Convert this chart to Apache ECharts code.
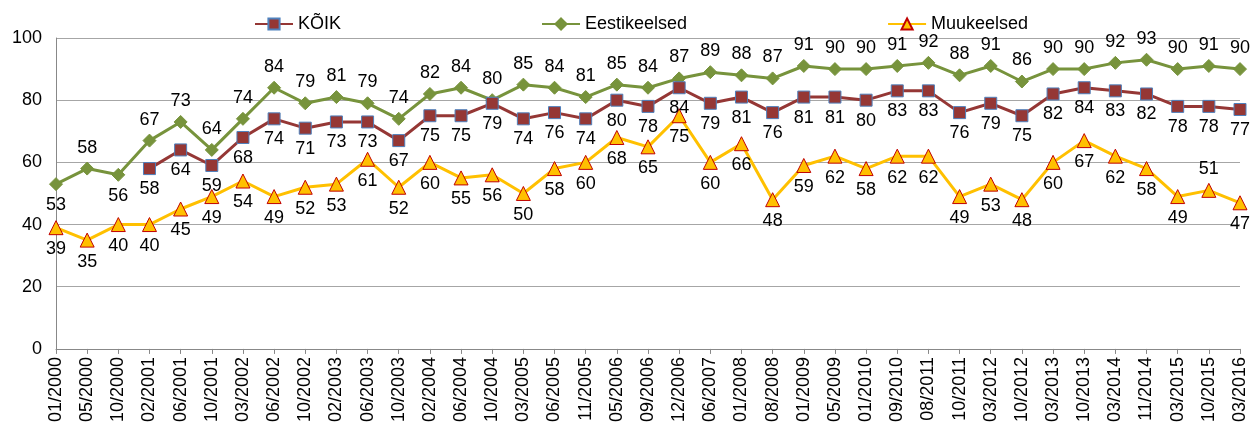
<!DOCTYPE html>
<html>
<head>
<meta charset="utf-8">
<script src="https://cdn.jsdelivr.net/npm/echarts@6/dist/echarts.min.js"></script>
<style>
  html, body { margin: 0; padding: 0; background: #fff; }
  #chart { width: 1260px; height: 425px; }
</style>
</head>
<body>
<div id="chart"></div>
<script>
const categories = ['01/2000', '05/2000', '10/2000', '02/2001', '06/2001', '10/2001', '03/2002', '06/2002', '10/2002', '02/2003',
  '06/2003', '10/2003', '02/2004', '06/2004', '10/2004', '03/2005', '06/2005', '11/2005', '05/2006', '09/2006',
  '12/2006', '06/2007', '01/2008', '08/2008', '01/2009', '05/2009', '01/2010', '09/2010', '08/2011', '10/2011',
  '03/2012', '10/2012', '03/2013', '10/2013', '03/2014', '11/2014', '03/2015', '10/2015', '03/2016'];

const koik = [null, null, null, 58, 64, 59, 68, 74, 71, 73, 73, 67, 75, 75, 79, 74, 76, 74, 80, 78,
  84, 79, 81, 76, 81, 81, 80, 83, 83, 76, 79, 75, 82, 84, 83, 82, 78, 78, 77];

const eesti = [53, 58, 56, 67, 73, 64, 74, 84, 79, 81, 79, 74, 82, 84, 80, 85, 84, 81, 85, 84,
  87, 89, 88, 87, 91, 90, 90, 91, 92, 88, 91, 86, 90, 90, 92, 93, 90, 91, 90];

const muu = [39, 35, 40, 40, 45, 49, 54, 49, 52, 53, 61, 52, 60, 55, 56, 50, 58, 60, 68, 65,
  75, 60, 66, 48, 59, 62, 58, 62, 62, 49, 53, 48, 60, 67, 62, 58, 49, 51, 47];

const yTicks = [0, 20, 40, 60, 80, 100];

// a few labels sit on the other side of the point in the original
const eestiBelow = [0, 2];
const muuAbove = [37];

const font = 'Liberation Sans, Arial, sans-serif';

function withLabelSide(values, indices, position) {
  return values.map((v, i) => indices.includes(i) ? { value: v, label: { position: position } } : v);
}

const chart = echarts.init(document.getElementById('chart'));

const labelStyle = {
  show: true,
  fontFamily: font,
  fontSize: 18,
  color: '#000',
  distance: 5
};

const option = {
  animation: false,
  textStyle: { fontFamily: font },
  legend: {
    top: 10,
    left: 249,
    itemGap: 200,
    itemWidth: 38,
    itemHeight: 14,
    textStyle: { fontFamily: font, fontSize: 18, color: '#000' },
    data: ['KÕIK', 'Eestikeelsed', 'Muukeelsed']
  },
  grid: { left: 56, right: 20, top: 38, bottom: 76 },
  xAxis: {
    type: 'category',
    data: categories,
    boundaryGap: false,
    axisLine: { lineStyle: { color: '#888', width: 1 } },
    axisTick: { show: true, alignWithLabel: true, length: 5, lineStyle: { color: '#888' } },
    axisLabel: {
      rotate: 90,
      interval: 0,
      fontFamily: font,
      fontSize: 18,
      color: '#000',
      margin: 8
    }
  },
  yAxis: {
    type: 'value',
    min: yTicks[0],
    max: yTicks[yTicks.length - 1],
    interval: 20,
    axisLine: { show: true, lineStyle: { color: '#888' } },
    axisTick: { show: false },
    splitLine: { lineStyle: { color: '#a6a6a6', width: 1 } },
    axisLabel: { fontFamily: font, fontSize: 18, color: '#000', margin: 14 }
  },
  series: [
    {
      name: 'KÕIK',
      type: 'line',
      data: koik,
      symbol: 'rect',
      symbolSize: 12,
      lineStyle: { color: '#953735', width: 3 },
      itemStyle: { color: '#953735', borderColor: '#4f81bd', borderWidth: 1 },
      label: Object.assign({}, labelStyle, { position: 'bottom' }),
      z: 3
    },
    {
      name: 'Eestikeelsed',
      type: 'line',
      data: withLabelSide(eesti, eestiBelow, 'bottom'),
      symbol: 'diamond',
      symbolSize: 13,
      lineStyle: { color: '#77933c', width: 3 },
      itemStyle: { color: '#77933c', borderColor: '#77933c', borderWidth: 1 },
      label: Object.assign({}, labelStyle, { position: 'top' }),
      z: 2
    },
    {
      name: 'Muukeelsed',
      type: 'line',
      data: withLabelSide(muu, muuAbove, 'top'),
      symbol: 'triangle',
      symbolSize: 14,
      lineStyle: { color: '#ffc000', width: 3 },
      itemStyle: { color: '#ffc000', borderColor: '#c00000', borderWidth: 1 },
      label: Object.assign({}, labelStyle, { position: 'bottom' }),
      z: 1
    }
  ]
};

chart.setOption(option);
</script>
</body>
</html>
